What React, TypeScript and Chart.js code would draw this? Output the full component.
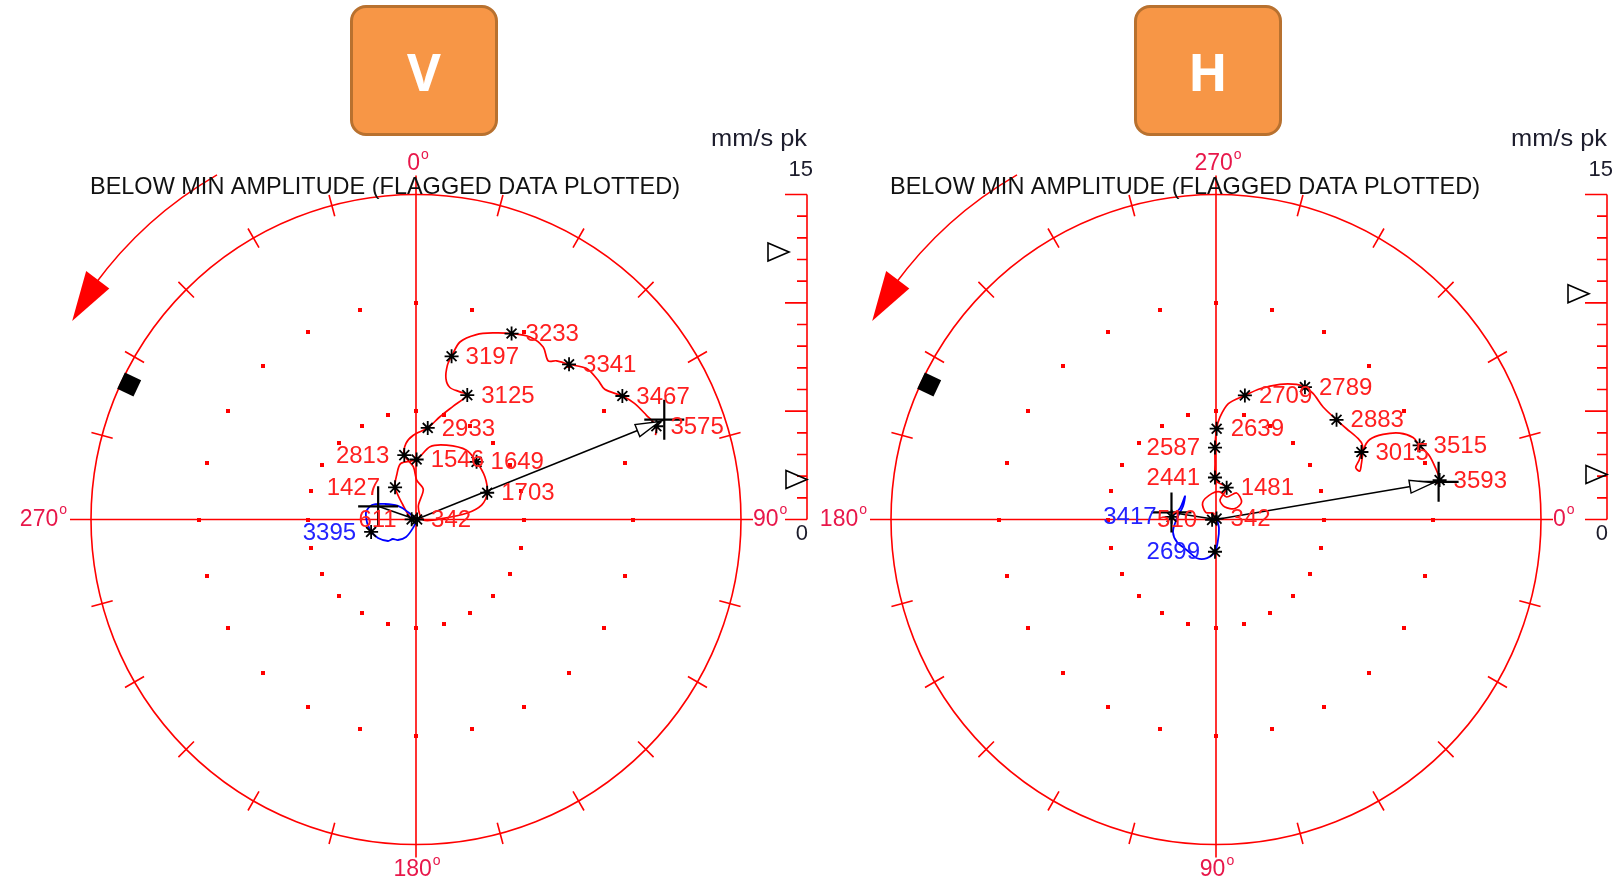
import { useEffect, useRef } from "react";
import { Chart, registerables } from "chart.js";

Chart.register(...registerables);

const FONT = "'Liberation Sans', Arial, sans-serif";
const CANVAS_W = 1624;
const CANVAS_H = 886;
const FULL_SCALE = 15; // mm/s pk at the outer ring
const RING_PX = 325;
const UNIT_PX = RING_PX / FULL_SCALE;
const CENTER_Y = 519.5;

const RED = "#ff0000";
const ANGLE_RED = "#e8174a";
const LABEL_RED = "#ff1f1f";
const LABEL_BLUE = "#2323ff";

// ---------- V probe: run-up (red) ----------
const V_UP_AMP = [0.05, 0.2, 0.9, 1.77, 2.24, 2.68, 2.77, 3.42, 3.71, 3.96, 3.86, 3.74, 3.51, 3.1, 2.35, 1.26, 0.34, 0.6, 1.43, 1.82, 2.44, 3.02, 3.54, 3.89, 4.26, 4.87, 5.51, 6.21, 6.23, 6.29, 6.65, 7.26, 7.71, 8.44, 8.98, 9.32, 9.65, 9.93, 9.89, 9.53, 9.78, 10.06, 10.51, 10.58, 10.58, 11.1, 11.42, 11.67, 11.9, 11.72];
const V_UP_PHASE = [90, 272, 318, 326.9, 336.6, 344.8, 0.6, 10.9, 22.4, 36.1, 46.4, 58.2, 69.4, 77.6, 83, 87.5, 94, 10.2, 13.6, 1, 357.1, 349.7, 352.5, 358.2, 7.3, 13.1, 18.2, 22.4, 19, 14.4, 12, 11.5, 12.3, 13.9, 18.1, 22.5, 27.2, 32, 36.4, 39.8, 41.5, 44.6, 48.5, 52.6, 55.4, 59.1, 62, 65.6, 68.8, 70.6];
const V_UP_RPM = [342, 611, null, 1427, null, null, 1546, null, null, null, 1649, null, 1703, null, null, null, null, null, null, null, null, 2813, null, null, 2933, null, null, 3125, null, null, null, null, 3197, null, null, null, 3233, null, null, null, null, 3341, null, null, null, 3467, null, null, 3575, null];

// ---------- V probe: coast-down (blue) ----------
const V_DOWN_AMP = [2.15, 1.95, 1.63, 1.4, 1.26, 0.93, 0.41, 0.05, 0.5, 1.04, 1.6, 2.14, 2.33, 2.26, 2.17];
const V_DOWN_PHASE = [254.5, 244.1, 232.5, 230, 221.3, 209.7, 199.4, 180, 313, 306.9, 296.6, 288.2, 278.5, 265.9, 257];
const V_DOWN_RPM = [3395, null, null, null, null, null, null, null, null, null, null, null, null, null, null];

// ---------- V probe: marked vectors [amplitude, phase] ----------
const V_MAIN_VECTOR = [12.35, 68.1];
const V_SMALL_VECTOR = [1.85, 289.2];

// ---------- H probe: run-up (red) ----------
const H_UP_AMP = [0.05, 0.18, 0.3, 0.58, 1.0, 1.21, 1.29, 1.15, 1.55, 1.43, 1.01, 0.71, 0.91, 1.55, 1.73, 1.94, 2.58, 3.32, 4.19, 4.73, 5.38, 5.88, 6.37, 6.9, 7.26, 7.36, 7.34, 7.17, 7.22, 7.34, 7.55, 7.58, 7.4, 7.15, 6.88, 7.0, 7.19, 7.57, 8.0, 8.65, 9.37, 9.85, 10.0, 10.27, 10.41, 10.48, 10.33];
const H_UP_PHASE = [300, 175, 250, 215, 232, 260.6, 278.2, 295.3, 307.9, 325.6, 329.9, 305.5, 281.7, 288.5, 272, 268.6, 269, 269.2, 270.4, 272.2, 276.1, 283.1, 288.6, 295.3, 300.8, 303.9, 307.7, 313.6, 320.4, 325.2, 330.4, 333.1, 335.1, 337.5, 339.6, 341.4, 339, 334.4, 332.5, 333, 334.8, 337.4, 340, 343.2, 346.9, 350, 350.8];
const H_UP_RPM = [342, 510, null, null, null, null, null, null, null, null, null, null, null, 1481, null, 2441, null, 2587, 2639, null, null, 2709, null, null, null, 2789, null, null, 2883, null, null, null, 3015, null, null, null, null, null, null, null, null, null, 3515, null, null, 3593, null];

// ---------- H probe: coast-down (blue) ----------
const H_DOWN_AMP = [2.05, 1.74, 1.79, 1.64, 1.84, 2.07, 2.08, 1.95, 1.99, 1.83, 1.49, 0.96, 0.42, 0.05];
const H_DOWN_PHASE = [183.4, 197.4, 216.9, 202, 179, 163.5, 149.8, 133.4, 116.1, 103.1, 91.8, 84.5, 71, 0];
const H_DOWN_RPM = [3417, null, null, null, null, null, null, null, null, null, 2699, null, null, null];

// ---------- H probe: marked vectors [amplitude, phase] ----------
const H_MAIN_VECTOR = [10.42, 350.4];
const H_SMALL_VECTOR = [2.08, 189];

// label placement around the rpm marker: r = right, l = left
const V_LABEL_SIDE: Record<number, string> = { 611: "l", 1427: "l", 2813: "l", 3395: "l" };
const H_LABEL_SIDE: Record<number, string> = { 510: "l", 2441: "l", 2587: "l", 3417: "l", 2699: "l" };

const TITLE_TEXT = "BELOW MIN AMPLITUDE (FLAGGED DATA PLOTTED)";
const UNITS_TEXT = "mm/s pk";

type Panel = {
  key: string;
  cx: number;
  zeroAt: number; // screen angle (clockwise from top) where 0° sits
  upAmp: number[];
  upPhase: number[];
  upRpm: (number | null)[];
  downAmp: number[];
  downPhase: number[];
  downRpm: (number | null)[];
  mainVec: number[];
  smallVec: number[];
  side: Record<number, string>;
};

const PANELS: Panel[] = [
  {
    key: "V", cx: 416, zeroAt: 0,
    upAmp: V_UP_AMP, upPhase: V_UP_PHASE, upRpm: V_UP_RPM,
    downAmp: V_DOWN_AMP, downPhase: V_DOWN_PHASE, downRpm: V_DOWN_RPM,
    mainVec: V_MAIN_VECTOR, smallVec: V_SMALL_VECTOR, side: V_LABEL_SIDE,
  },
  {
    key: "H", cx: 1216, zeroAt: 90,
    upAmp: H_UP_AMP, upPhase: H_UP_PHASE, upRpm: H_UP_RPM,
    downAmp: H_DOWN_AMP, downPhase: H_DOWN_PHASE, downRpm: H_DOWN_RPM,
    mainVec: H_MAIN_VECTOR, smallVec: H_SMALL_VECTOR, side: H_LABEL_SIDE,
  },
];

const D2R = Math.PI / 180;

// polar (amplitude, phase) -> cartesian in mm/s, phase running clockwise
function toXY(zeroAt: number, amp: number, phase: number) {
  const t = (zeroAt + phase) * D2R;
  return { x: amp * Math.sin(t), y: amp * Math.cos(t) };
}

function frameOf(chart: any, p: Panel) {
  const xs = chart.scales["x" + p.key];
  const ys = chart.scales["y" + p.key];
  const cx = xs.getPixelForValue(0);
  const cy = ys.getPixelForValue(0);
  const R = xs.getPixelForValue(FULL_SCALE) - cx;
  return { xs, ys, cx, cy, R };
}

function degreeLabel(ctx: CanvasRenderingContext2D, text: string, x: number, y: number, align: string) {
  ctx.font = `23px ${FONT}`;
  const w1 = ctx.measureText(text).width;
  ctx.font = `14px ${FONT}`;
  const w2 = ctx.measureText("o").width;
  const total = w1 + 1 + w2;
  const x0 = align === "left" ? x : align === "right" ? x - total : x - total / 2;
  ctx.textAlign = "left";
  ctx.textBaseline = "middle";
  ctx.fillStyle = ANGLE_RED;
  ctx.font = `23px ${FONT}`;
  ctx.fillText(text, x0, y);
  ctx.font = `14px ${FONT}`;
  ctx.fillText("o", x0 + w1 + 1, y - 9);
}

function drawFrame(ctx: CanvasRenderingContext2D, chart: any, p: Panel) {
  const { xs, ys, cx, cy, R } = frameOf(chart, p);
  ctx.save();
  ctx.strokeStyle = RED;
  ctx.lineWidth = 1.6;

  // outer ring
  ctx.beginPath();
  ctx.arc(cx, cy, R, 0, Math.PI * 2);
  ctx.stroke();

  // cross hair
  ctx.beginPath();
  ctx.moveTo(cx - R - 21, cy);
  ctx.lineTo(cx + R + 12, cy);
  ctx.moveTo(cx, cy - R - 19);
  ctx.lineTo(cx, cy + R + 13);
  ctx.stroke();

  // 15° ticks on the ring
  ctx.beginPath();
  for (let deg = 15; deg < 360; deg += 15) {
    if (deg % 90 === 0) continue;
    const s = Math.sin(deg * D2R), c = Math.cos(deg * D2R);
    ctx.moveTo(cx + (R - 11) * s, cy - (R - 11) * c);
    ctx.lineTo(cx + (R + 11) * s, cy - (R + 11) * c);
  }
  ctx.stroke();

  // dotted rings at 5 and 10 mm/s
  ctx.fillStyle = RED;
  [5, 10].forEach((amp) => {
    for (let deg = 0; deg < 360; deg += 15) {
      const pt = toXY(0, amp, deg);
      const X = xs.getPixelForValue(pt.x);
      const Y = ys.getPixelForValue(pt.y);
      ctx.fillRect(Math.round(X) - 2, Math.round(Y) - 2, 4, 4);
    }
  });

  // rotation direction arrow
  const ar = R + 73;
  const cang = (t: number) => (t - 90) * D2R;
  ctx.lineWidth = 1.5;
  ctx.beginPath();
  ctx.arc(cx, cy, ar, cang(-30), cang(-54), true);
  ctx.stroke();
  const pol = (t: number, r: number) => [cx + r * Math.sin(t * D2R), cy - r * Math.cos(t * D2R)];
  const tip = pol(-60, ar - 1);
  const b1 = pol(-53, ar - 14);
  const b2 = pol(-53, ar + 15);
  ctx.beginPath();
  ctx.moveTo(tip[0], tip[1]);
  ctx.lineTo(b1[0], b1[1]);
  ctx.lineTo(b2[0], b2[1]);
  ctx.closePath();
  ctx.fill();

  // keyphasor marker
  const kp = pol(-64.8, R - 8);
  ctx.save();
  ctx.translate(kp[0], kp[1]);
  ctx.rotate(-64.8 * D2R);
  ctx.fillStyle = "#000";
  ctx.fillRect(-9, -9, 18, 18);
  ctx.restore();

  // amplitude bar
  const bx = cx + 391;
  const yv = (v: number) => ys.getPixelForValue(v);
  ctx.lineWidth = 1.6;
  ctx.beginPath();
  ctx.moveTo(bx, yv(0));
  ctx.lineTo(bx, yv(FULL_SCALE));
  for (let v = 0; v <= FULL_SCALE; v++) {
    const len = v % 5 === 0 ? 22 : 10;
    ctx.moveTo(bx - len, yv(v));
    ctx.lineTo(bx, yv(v));
  }
  ctx.stroke();

  ctx.fillStyle = "#1c1c2c";
  ctx.textAlign = "right";
  ctx.textBaseline = "middle";
  ctx.font = `24px ${FONT}`;
  const uw = ctx.measureText(UNITS_TEXT).width;
  ctx.save();
  ctx.translate(bx, cy - 380.5);
  ctx.scale(96 / uw, 1);
  ctx.fillText(UNITS_TEXT, 0, 0);
  ctx.restore();
  ctx.font = `22px ${FONT}`;
  ctx.fillText(String(FULL_SCALE), bx + 6, yv(FULL_SCALE) - 25);
  ctx.fillText("0", bx + 1, yv(0) + 14);

  // title
  ctx.fillStyle = "#111";
  ctx.font = `24px ${FONT}`;
  ctx.textAlign = "left";
  const tw = ctx.measureText(TITLE_TEXT).width;
  ctx.save();
  ctx.translate(cx - 326, cy - 332);
  ctx.scale(590 / tw, 1);
  ctx.fillText(TITLE_TEXT, 0, 0);
  ctx.restore();

  // angle labels
  const lab = (t: number) => String((((t - p.zeroAt) % 360) + 360) % 360);
  degreeLabel(ctx, lab(0), cx + 2, cy - 355.5, "center");
  degreeLabel(ctx, lab(90), cx + 337, cy, "left");
  degreeLabel(ctx, lab(180), cx + 1, cy + 350.5, "center");
  degreeLabel(ctx, lab(270), cx - 349, cy, "right");

  ctx.restore();
}

function drawOverlay(ctx: CanvasRenderingContext2D, chart: any, p: Panel) {
  const { xs, ys, cx, cy } = frameOf(chart, p);
  const px = (pt: { x: number; y: number }) => [xs.getPixelForValue(pt.x), ys.getPixelForValue(pt.y)];
  ctx.save();

  // open arrow head on the main vector
  const end = px(toXY(p.zeroAt, p.mainVec[0], p.mainVec[1]));
  const dx = end[0] - cx, dy = end[1] - cy;
  const L = Math.hypot(dx, dy);
  const ux = dx / L, uy = dy / L;
  const tx = end[0] - ux * 5, ty = end[1] - uy * 5;
  const bxp = tx - ux * 24, byp = ty - uy * 24;
  ctx.beginPath();
  ctx.moveTo(tx, ty);
  ctx.lineTo(bxp - uy * 6.5, byp + ux * 6.5);
  ctx.lineTo(bxp + uy * 6.5, byp - ux * 6.5);
  ctx.closePath();
  ctx.fillStyle = "#fff";
  ctx.fill();
  ctx.strokeStyle = "#000";
  ctx.lineWidth = 1.4;
  ctx.stroke();

  // level pointers beside the amplitude bar
  const bx = cx + 391;
  const pointer = (amp: number, tipX: number) => {
    const y = ys.getPixelForValue(amp);
    ctx.beginPath();
    ctx.moveTo(tipX, y);
    ctx.lineTo(tipX - 21, y - 9);
    ctx.lineTo(tipX - 21, y + 9);
    ctx.closePath();
    ctx.lineWidth = 1.6;
    ctx.stroke();
  };
  pointer(p.mainVec[0], bx - 18);
  pointer(p.smallVec[0], bx);

  // rpm labels
  ctx.font = `24px ${FONT}`;
  ctx.textBaseline = "middle";
  const label = (amp: number, ph: number, rpm: number, color: string) => {
    const [X, Y] = px(toXY(p.zeroAt, amp, ph));
    const side = p.side[rpm] || "r";
    ctx.fillStyle = color;
    if (side === "l") {
      ctx.textAlign = "right";
      ctx.fillText(String(rpm), X - 15, Y + 1);
    } else {
      ctx.textAlign = "left";
      ctx.fillText(String(rpm), X + 14, Y + 1);
    }
  };
  p.upRpm.forEach((r, i) => { if (r != null) label(p.upAmp[i], p.upPhase[i], r, LABEL_RED); });
  p.downRpm.forEach((r, i) => { if (r != null) label(p.downAmp[i], p.downPhase[i], r, LABEL_BLUE); });
  ctx.restore();
}

const polarDecor = {
  id: "polarDecor",
  beforeDatasetsDraw(chart: any) {
    PANELS.forEach((p) => drawFrame(chart.ctx, chart, p));
  },
  afterDatasetsDraw(chart: any) {
    PANELS.forEach((p) => drawOverlay(chart.ctx, chart, p));
  },
};

function buildDatasets() {
  const ds: any[] = [];
  PANELS.forEach((p) => {
    const ax = { xAxisID: "x" + p.key, yAxisID: "y" + p.key };
    const up = p.upAmp.map((a, i) => toXY(p.zeroAt, a, p.upPhase[i]));
    const down = p.downAmp.map((a, i) => toXY(p.zeroAt, a, p.downPhase[i]));
    const tagged = [
      ...up.filter((_, i) => p.upRpm[i] != null),
      ...down.filter((_, i) => p.downRpm[i] != null),
    ];
    const main = toXY(p.zeroAt, p.mainVec[0], p.mainVec[1]);
    const small = toXY(p.zeroAt, p.smallVec[0], p.smallVec[1]);
    const origin = { x: 0, y: 0 };
    ds.push({ ...ax, label: p.key + " rpm", data: tagged, showLine: false, pointStyle: "star", pointRadius: 7, borderColor: "#000", borderWidth: 1.8, order: 0 });
    ds.push({ ...ax, label: p.key + " vectors", data: [main, small], showLine: false, pointStyle: "cross", pointRadius: 20, borderColor: "#000", borderWidth: 2.2, order: 1 });
    ds.push({ ...ax, label: p.key + " main", data: [origin, main], showLine: true, pointRadius: 0, borderColor: "#000", borderWidth: 1.5, order: 2 });
    ds.push({ ...ax, label: p.key + " small", data: [origin, small], showLine: true, pointRadius: 0, borderColor: "#000", borderWidth: 1.5, order: 2 });
    ds.push({ ...ax, label: p.key + " coast-down", data: down, showLine: true, pointRadius: 0, borderColor: "#0000ff", borderWidth: 1.8, tension: 0.3, order: 3 });
    ds.push({ ...ax, label: p.key + " run-up", data: up, showLine: true, pointRadius: 0, borderColor: RED, borderWidth: 1.7, tension: 0.3, order: 4 });
  });
  return ds;
}

function buildScales() {
  const scales: any = {
    x: { type: "linear", display: false },
    y: { type: "linear", display: false },
  };
  PANELS.forEach((p) => {
    scales["x" + p.key] = { type: "linear", display: false, bounds: "data", min: -p.cx / UNIT_PX, max: (CANVAS_W - p.cx) / UNIT_PX };
    scales["y" + p.key] = { type: "linear", display: false, bounds: "data", min: -(CANVAS_H - CENTER_Y) / UNIT_PX, max: CENTER_Y / UNIT_PX };
  });
  return scales;
}

const boxStyle = (left: number): any => ({
  position: "absolute",
  left,
  top: 5,
  width: 148,
  height: 131,
  boxSizing: "border-box",
  background: "#f79646",
  border: "3.5px solid #b8712f",
  borderRadius: 16,
  display: "flex",
  alignItems: "center",
  justifyContent: "center",
  color: "#ffffff",
  font: "700 52px 'Open Sans', sans-serif",
});

export default function App() {
  const ref = useRef<HTMLCanvasElement | null>(null);

  useEffect(() => {
    if (!ref.current) return;
    const chart = new Chart(ref.current, {
      type: "scatter",
      data: { datasets: buildDatasets() },
      options: {
        responsive: false,
        maintainAspectRatio: false,
        devicePixelRatio: 1,
        animation: false,
        events: [],
        layout: { padding: 0, autoPadding: false },
        plugins: { legend: { display: false }, tooltip: { enabled: false }, title: { display: false } },
        scales: buildScales(),
      } as any,
      plugins: [polarDecor],
    });
    return () => chart.destroy();
  }, []);

  return (
    <div style={{ position: "absolute", left: 0, top: 0, width: CANVAS_W, height: CANVAS_H, background: "#fff", overflow: "hidden" }}>
      <canvas ref={ref} width={CANVAS_W} height={CANVAS_H} style={{ display: "block", position: "absolute", left: 0, top: 0 }} />
      <div style={boxStyle(350)}>V</div>
      <div style={boxStyle(1134)}>H</div>
    </div>
  );
}
